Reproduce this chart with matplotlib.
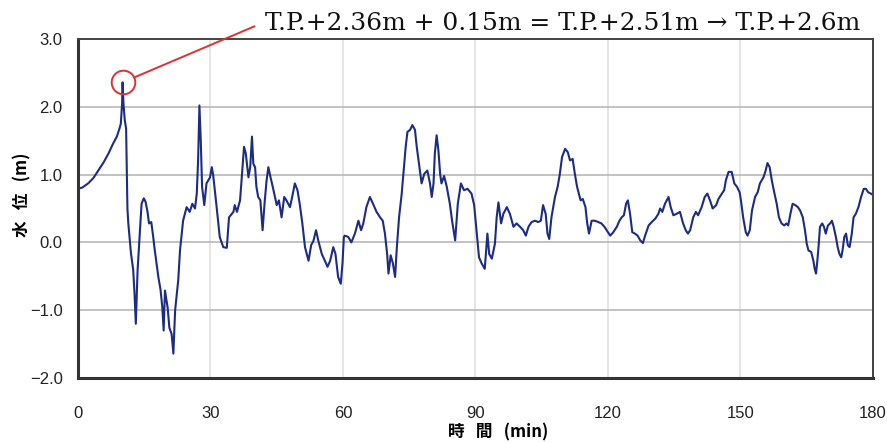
import matplotlib
matplotlib.use('Agg')
import matplotlib.pyplot as plt

plt.rcParams['font.family'] = ['Liberation Sans', 'Noto Sans CJK JP', 'DejaVu Sans']

# elapsed time (min) and water level (m)
time_min = [
    0, 1.0, 2.3, 3.5, 4.6, 5.8, 6.9, 7.9, 8.8, 9.4, 9.7, 10.0, 10.1, 10.3, 10.6, 10.9,
    11.2, 11.4, 12.0, 12.5, 12.8, 13.1, 13.5, 14.0, 14.4, 14.9, 15.3, 15.7, 16.1, 16.6,
    17.0, 17.4, 18.2, 18.7, 19.1, 19.4, 19.7, 20.3, 20.7, 21.2, 21.6, 22.0, 22.7, 23.1,
    23.8, 24.6, 25.3, 25.9, 26.5, 26.9, 27.2, 27.5, 27.8, 28.1, 28.6, 29.1, 29.9,
    30.3, 30.6, 31.4, 32.1, 32.9, 33.7, 34.2, 35.2, 35.5, 36.0, 36.7, 37.2, 37.6, 38.0,
    38.6, 39.0, 39.4, 39.7, 40.1, 40.4, 40.8, 41.3, 41.8, 42.3, 42.7, 43.1, 43.6, 44.1,
    44.6, 45.0, 45.5, 46.1, 46.7, 47.2, 48.0, 48.5, 49.1, 49.7, 50.2, 50.8, 51.4, 52.2,
    52.8, 53.3, 53.9, 54.4, 55.2, 55.9, 56.5, 57.1, 57.8, 58.3, 58.9, 59.5, 59.9,
    60.2, 60.4, 61.2, 61.9, 62.7, 63.5, 64.1, 64.6, 65.3, 66.1, 66.8, 67.6, 68.4, 69.0,
    69.5, 70.0, 70.3, 70.8, 71.3, 71.8, 72.2, 72.7, 73.3, 73.8, 74.2, 74.6, 75.2, 75.7,
    76.3, 76.7, 77.2, 77.8, 78.4, 79.1, 79.7, 80.1, 80.5, 80.8, 81.2, 81.6, 82.0, 82.3,
    82.9, 83.5, 84.2, 84.7, 85.4, 86.0, 86.7, 87.4, 88.2, 89.1, 89.7,
    90.3, 90.8, 91.4, 92.1, 92.7, 93.1, 93.7, 94.4, 94.8, 95.2, 95.8, 96.3, 97.1, 97.8,
    98.6, 99.3, 100.1, 100.8, 101.4, 102.0, 102.7, 103.5, 104.2, 104.8, 105.3, 105.9,
    106.3, 106.7, 107.2, 108.0, 108.6, 109.1, 109.6, 110.3, 110.9, 111.4, 112.0, 112.5,
    113.0, 113.8, 114.3, 114.9, 115.3, 115.7, 116.3, 117.0, 117.8, 118.5, 119.2,
    119.7, 120.5, 121.2, 122.0, 122.6, 123.1, 123.6, 124.1, 124.5, 125.0, 125.5, 126.1,
    126.7, 127.3, 127.9, 128.4, 129.2, 129.9, 130.7, 131.4, 131.8, 132.3, 132.9, 133.7,
    134.2, 134.8, 135.5, 136.3, 137.0, 137.6, 138.1, 138.6, 139.3, 139.9, 140.4, 141.2,
    141.9, 142.5, 143.1, 143.7, 144.5, 145.0, 145.8, 146.3, 146.7, 147.3, 148.0, 148.6,
    149.2, 149.8,
    150.1, 150.6, 151.2, 151.6, 152.1, 152.6, 153.3, 153.9, 154.4, 155.2, 155.7, 156.1,
    156.6, 157.1, 157.7, 158.2, 158.7, 159.3, 159.9, 160.4, 160.8, 161.3, 161.8, 162.4,
    163.0, 163.5, 164.1, 164.6, 165.0, 165.4, 166.0, 166.5, 166.8, 167.1, 167.4, 167.7,
    168.0, 168.5, 168.9, 169.3, 169.8, 170.3, 170.7, 171.1, 171.6, 172.0, 172.4, 172.8,
    173.1, 173.5, 173.9, 174.3, 174.7, 175.2, 175.6, 176.1, 176.7, 177.3, 177.9, 178.4,
    178.9, 179.5, 180.0,
]
level_m = [
    0.79, 0.81, 0.87, 0.95, 1.06, 1.18, 1.31, 1.45, 1.56, 1.68, 1.75, 2.05, 2.36, 2.05, 1.80, 1.68,
    0.50, 0.28, -0.16, -0.40, -0.75, -1.20, -0.41, 0.13, 0.57, 0.65, 0.60, 0.47, 0.28, 0.30,
    0.10, -0.12, -0.51, -0.70, -0.96, -1.30, -0.71, -0.96, -1.26, -1.35, -1.64, -1.00, -0.56, -0.12,
    0.32, 0.52, 0.45, 0.57, 0.50, 0.72, 1.21, 2.02, 1.51, 0.82, 0.55, 0.87, 0.96,
    1.11, 1.00, 0.52, 0.08, -0.07, -0.08, 0.37, 0.45, 0.55, 0.45, 0.62, 1.06, 1.41, 1.31,
    0.96, 1.11, 1.56, 1.16, 1.11, 0.82, 0.67, 0.62, 0.18, 0.62, 0.91, 1.11, 0.96, 0.82,
    0.67, 0.55, 0.62, 0.37, 0.67, 0.62, 0.52, 0.67, 0.87, 0.77, 0.57, 0.28, -0.07, -0.27,
    -0.04, 0.02, 0.18, 0.03, -0.17, -0.27, -0.36, -0.27, -0.07, -0.17, -0.51, -0.61, -0.30,
    0.08, 0.10, 0.08, 0.00, 0.13, 0.32, 0.18, 0.28, 0.52, 0.67, 0.57, 0.45, 0.37, 0.32,
    0.13, -0.17, -0.46, -0.19, -0.31, -0.51, -0.07, 0.37, 0.72, 1.11, 1.41, 1.63, 1.66, 1.73,
    1.66, 1.41, 1.16, 0.87, 1.01, 1.06, 0.87, 0.67, 0.87, 1.31, 1.58, 1.36, 1.01, 0.87,
    0.98, 0.82, 0.57, 0.32, 0.03, 0.57, 0.87, 0.77, 0.79, 0.72, 0.55,
    0.13, -0.22, -0.31, -0.39, 0.13, -0.17, -0.24, -0.02, 0.37, 0.59, 0.28, 0.42, 0.52, 0.42,
    0.23, 0.28, 0.23, 0.18, 0.10, 0.23, 0.30, 0.32, 0.30, 0.32, 0.55, 0.42,
    0.13, 0.05, 0.37, 0.67, 0.82, 1.01, 1.26, 1.38, 1.33, 1.21, 1.23, 1.01,
    0.82, 0.62, 0.64, 0.52, 0.28, 0.13, 0.32, 0.32, 0.30, 0.28, 0.23,
    0.18, 0.10, 0.15, 0.23, 0.32, 0.37, 0.40, 0.57, 0.62, 0.42, 0.15, 0.13,
    0.10, 0.03, -0.01, 0.10, 0.25, 0.30, 0.35, 0.42, 0.50, 0.45, 0.57, 0.67,
    0.52, 0.40, 0.42, 0.45, 0.28, 0.18, 0.13, 0.18, 0.37, 0.45, 0.40, 0.52,
    0.67, 0.72, 0.62, 0.50, 0.55, 0.64, 0.72, 0.77, 0.92, 1.04, 1.04, 0.87,
    0.82, 0.74,
    0.62, 0.37, 0.15, 0.10, 0.18, 0.47, 0.67, 0.74, 0.87, 0.96, 1.06, 1.17,
    1.11, 0.91, 0.72, 0.57, 0.37, 0.28, 0.25, 0.28, 0.25, 0.42, 0.57, 0.55,
    0.52, 0.47, 0.37, 0.18, -0.02, -0.12, -0.14, -0.27, -0.39, -0.46, -0.27, -0.04,
    0.23, 0.28, 0.23, 0.13, 0.25, 0.28, 0.32, 0.23, 0.08, -0.07, -0.17, -0.22,
    -0.12, 0.08, 0.13, -0.04, -0.07, 0.13, 0.37, 0.42, 0.52, 0.67, 0.79, 0.79,
    0.74, 0.72, 0.70,
]

x_ticks = [0, 30, 60, 90, 120, 150, 180]
y_ticks = [-2.0, -1.0, 0.0, 1.0, 2.0, 3.0]
y_ticklabels = ['\u22122.0', '\u22121.0', '0.0', '1.0', '2.0', '3.0']

peak_t = 10.1
peak_v = 2.36
note = 'T.P.+2.36m + 0.15m = T.P.+2.51m \u2192 T.P.+2.6m'

fig = plt.figure(figsize=(8.92, 4.43), dpi=100)
ax = fig.add_axes([0.0874, 0.1467, 0.8913, 0.7653])

ax.plot(time_min, level_m, color='#1c2c82', lw=1.5)

ax.set_xlim(0, 180)
ax.set_ylim(-2.0, 3.0)
ax.set_xticks(x_ticks)
ax.set_yticks(y_ticks)
ax.set_yticklabels(y_ticklabels)
ax.tick_params(axis='both', length=0, labelsize=12, colors='#222222')
ax.tick_params(axis='x', pad=20)
ax.tick_params(axis='y', pad=11)

ax.grid(axis='y', color='#bdbdbd', lw=1.3)
ax.grid(axis='x', color='#e0e0e0', lw=1.2)
ax.set_axisbelow(True)

for side in ['left', 'bottom']:
    ax.spines[side].set_linewidth(2.2)
    ax.spines[side].set_color('#333333')
for side in ['top', 'right']:
    ax.spines[side].set_linewidth(1.4)
    ax.spines[side].set_color('#444444')

ax.set_ylabel('水   位   (m)', family=['Noto Sans CJK JP', 'DejaVu Sans'],
              fontsize=12, fontweight='bold')
ax.set_xlabel('時   間   (min)', family=['Noto Sans CJK JP', 'DejaVu Sans'],
              fontsize=12, fontweight='bold')
ax.xaxis.set_label_coords(0.528, -0.133)
ax.yaxis.set_label_coords(-0.058, 0.54)

# red circle on the peak and leader line to the note
ax.plot([peak_t], [peak_v], marker='o', markersize=17, markerfacecolor='none',
        markeredgecolor='#e03030', markeredgewidth=1.4, clip_on=False)
ax.annotate(note, xy=(peak_t, peak_v), xycoords='data',
            xytext=(265, 420), textcoords='figure pixels',
            ha='left', va='center', fontsize=17.9,
            family=['DejaVu Serif'], color='#111111',
            arrowprops=dict(arrowstyle='-', color='#e03030', lw=1.4,
                            shrinkA=6, shrinkB=9, relpos=(0, 0.55)),
            annotation_clip=False)

fig.savefig('out.png', dpi=100)
